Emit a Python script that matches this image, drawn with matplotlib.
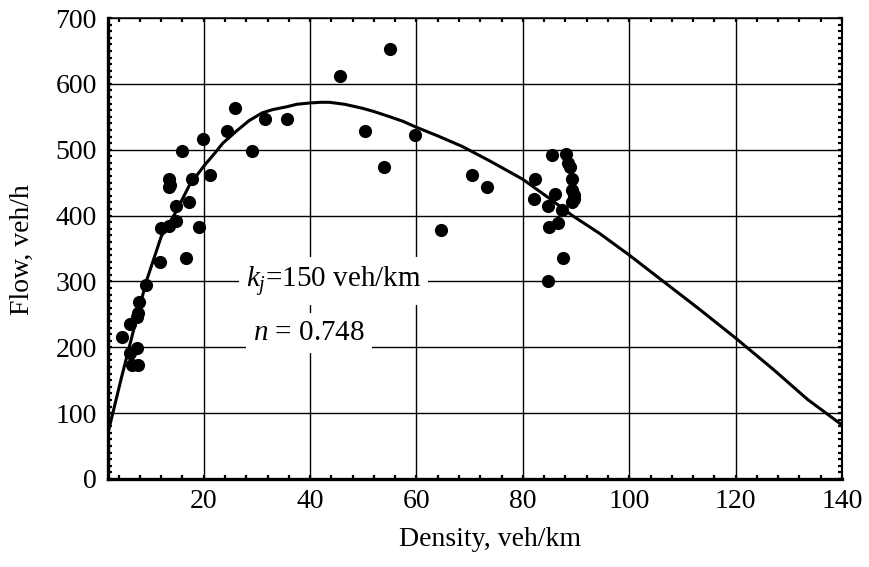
import numpy as np
import matplotlib
matplotlib.use("Agg")
import matplotlib.pyplot as plt
from matplotlib.ticker import MultipleLocator

# datos medidos (densidad, flujo)
densidad = [4.7, 6.05, 6.05, 6.5, 7.4, 7.4, 7.7, 7.7, 7.9, 9.2,
            11.8, 12.0, 13.55, 13.4, 13.55, 13.7, 14.75, 14.8, 16.0, 16.6,
            17.3, 17.7, 19.1, 19.9, 21.1, 24.3, 25.9, 29.1, 31.5, 35.7,
            45.7, 50.4, 53.9, 55.1, 59.8, 64.7, 70.5, 73.2,
            82.1, 82.3, 84.8, 84.8, 84.9, 85.4, 86.0, 86.6, 87.3, 87.6,
            88.2, 88.5, 88.8, 89.2, 89.3, 89.3, 89.6, 89.7]
flujo = [216, 235, 191, 173, 199, 246, 173, 252, 269, 295,
         330, 381, 384, 444, 456, 447, 415, 391, 498, 336,
         421, 455, 383, 516, 462, 528, 564, 498, 546, 546,
         612, 528, 474, 653, 522, 378, 462, 444,
         425, 455, 300, 414, 383, 492, 432, 389, 408, 336,
         494, 480, 473, 455, 439, 421, 431, 425]

# curva ajustada (kj = 150 veh/km, n = 0.748)
k_curva = [2, 4.5, 7, 9.2, 12, 14.8, 17.3, 20, 22, 23.6, 26.1, 28.5, 31, 33,
           35.5, 37.5, 40, 42, 43.6, 46.5, 49.8, 52, 55, 57.5, 60, 64, 68.6,
           74, 80, 85, 89.3, 94.4, 100, 106.9, 113, 120, 127, 133.5, 140]
q_curva = [70, 153, 232, 300, 368, 406, 446, 475, 494, 510, 528, 544, 556, 561,
           565, 569, 571, 572, 572, 569, 563, 558, 550, 543, 534, 521, 505,
           482, 455, 426, 400, 373, 340, 297, 259, 214, 167, 121, 82]

plt.rcParams['font.family'] = ['Liberation Serif', 'DejaVu Serif']
plt.rcParams['mathtext.fontset'] = 'custom'
plt.rcParams['mathtext.rm'] = 'Liberation Serif'
plt.rcParams['mathtext.it'] = 'Liberation Serif:italic'

fig = plt.figure(figsize=(8.69, 5.67), dpi=100)
ax = fig.add_axes([108/869, 1-479/567, 734/869, 461/567])

ax.plot(k_curva, q_curva, color='black', lw=2.2, zorder=3,
        solid_joinstyle='round')
ax.scatter(densidad, flujo, s=90, color='black', zorder=4, linewidths=0)

ax.set_xlim(2, 140)
ax.set_ylim(0, 700)
ax.xaxis.set_major_locator(MultipleLocator(20))
ax.xaxis.set_minor_locator(MultipleLocator(4))
ax.yaxis.set_major_locator(MultipleLocator(100))
ax.yaxis.set_minor_locator(MultipleLocator(10))
ax.grid(True, which='major', color='black', lw=1.0, zorder=1)

ax.tick_params(which='both', direction='in', top=True, right=True,
               labelsize=20, width=1.6, length=3, color='black')
ax.tick_params(axis='x', pad=7)
ax.tick_params(axis='y', pad=8)
for lado, w in (('left', 2.4), ('bottom', 2.4), ('top', 1.1), ('right', 1.5)):
    ax.spines[lado].set_linewidth(w)

caja = dict(facecolor='white', edgecolor='none', pad=5)
ax.text(44.4, 300, r'$k_j$=150 veh/km', fontsize=21, ha='center', va='center',
        bbox=caja, zorder=2)
ax.text(39.8, 222, r'$n$ = 0.748', fontsize=21, ha='center', va='center',
        bbox=caja, zorder=2)

fig.text(490/869, 1-540/567, 'Density, veh/km', fontsize=20, ha='center', va='center')
fig.text(22/869, 1-250/567, 'Flow, veh/h', fontsize=20, ha='center', va='center',
         rotation=90)

fig.savefig('out.png', dpi=100)
